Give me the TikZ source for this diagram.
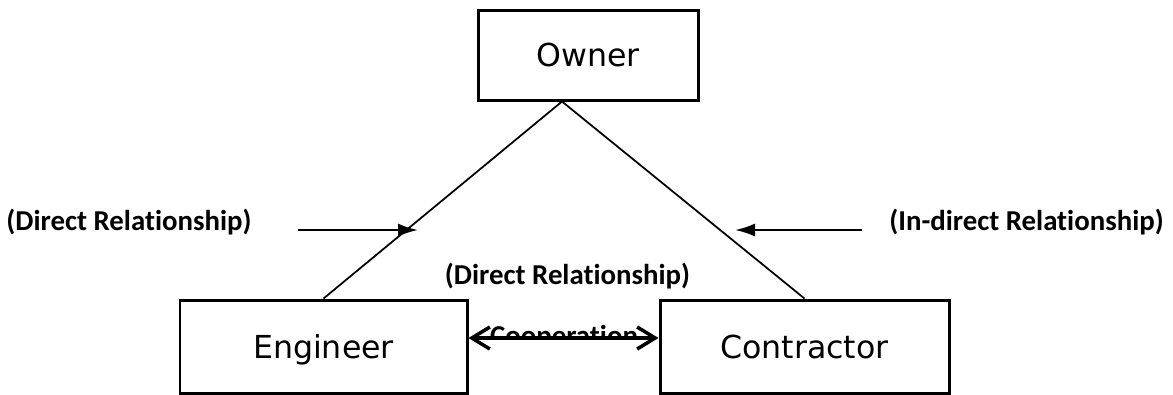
\documentclass[tikz,border=0pt]{standalone}
\usepackage{fontspec}
\newfontfamily\boxfont{DejaVu Sans}
\newfontfamily\relfont[Ligatures=NoCommon]{Carlito}
\usetikzlibrary{arrows.meta}

\begin{document}
\begin{tikzpicture}[line width=0.85pt,
  box/.style={draw, minimum height=0.93cm, inner sep=0pt,
    text height=2.3mm, text depth=0mm,
    font=\boxfont\fontsize{9}{11}\selectfont},
  rel/.style={inner sep=0pt, font=\relfont\bfseries\fontsize{8.2}{10}\selectfont},
  side/.style={-{Latex[length=0.2cm,width=0.13cm]}, line width=0.6pt},
  barb/.style={{Straight Barb[length=0.18cm,width=0.22cm]}-{Straight Barb[length=0.18cm,width=0.22cm]}, line width=1pt}]
\useasboundingbox (0,0) rectangle (11.73,3.94);
\node[box, minimum width=2.2cm, minimum height=0.9cm] (owner) at (5.88,3.39) {Owner};
\node[box, minimum width=2.87cm] (eng) at (3.235,0.475) {Engineer};
\node[box, minimum width=2.89cm] (con) at (8.045,0.475) {Contractor};
\coordinate (apex) at ([xshift=-0.26cm]owner.south);

\node[rel] (lrel) at (1.29,1.72) {(Direct Relationship)};
\node[rel] (rrel) at (10.265,1.72) {(In-direct Relationship)};
\node[rel] (mrel) at (5.675,1.18) {(Direct Relationship)};
\coordinate (la) at (2.98,1.64);
\coordinate (lb) at (4.18,1.64);
\coordinate (ra) at (8.62,1.64);
\coordinate (rb) at (7.35,1.64);

% text half hidden under the arrow
\begin{scope}
\clip (4.6,0.56) rectangle (6.7,0.9);
\node[rel, anchor=base] (coop) at (5.64,0.49) {Cooperation};
\end{scope}

\path[line width=0.5pt] (apex) edge (eng.north)
      (apex) edge (con.north);
\path[side] (la) edge (lb)
      (ra) edge (rb);
\path[barb] ([yshift=0.085cm]eng.east) edge ([yshift=0.085cm]con.west);
\end{tikzpicture}
\end{document}
